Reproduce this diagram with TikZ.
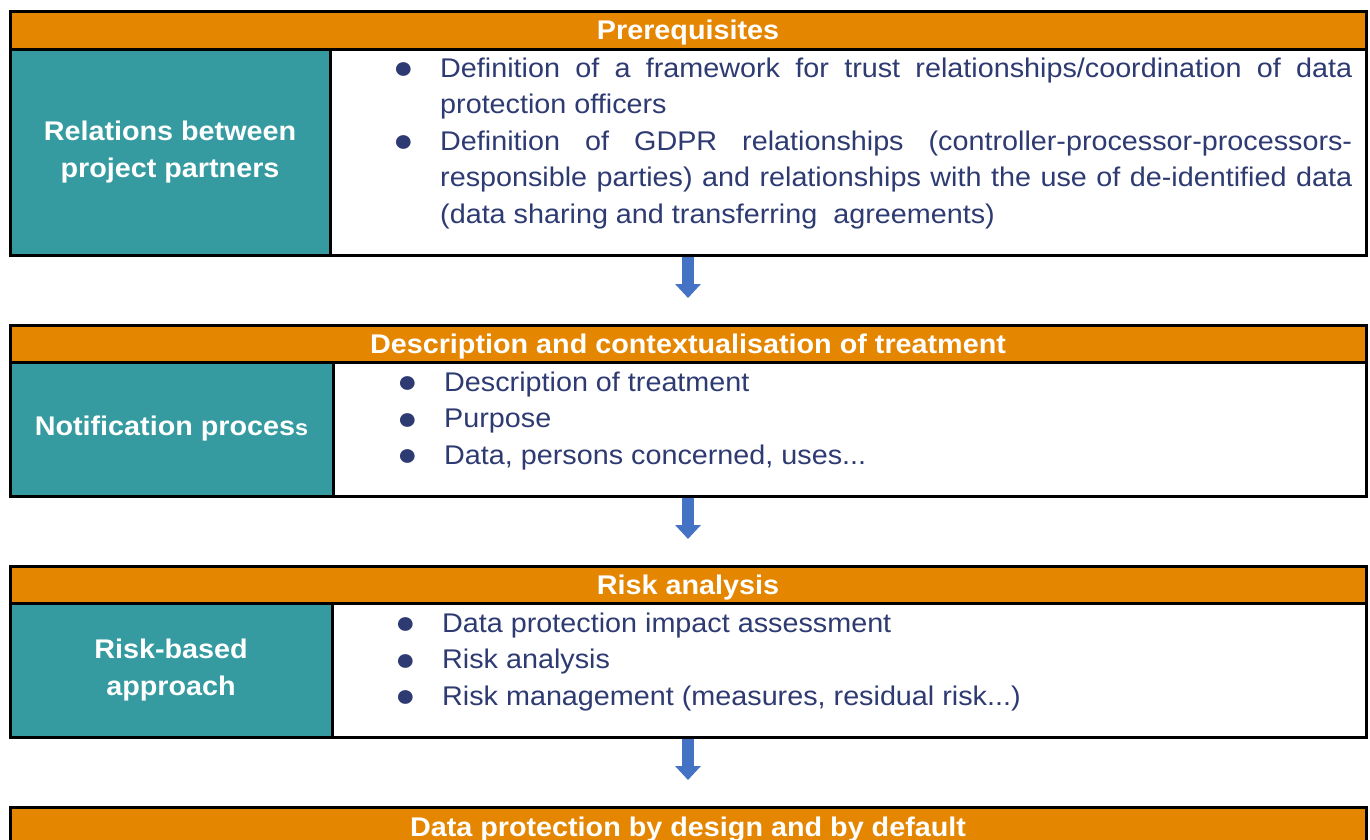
\documentclass[tikz,border=0pt]{standalone}
\usepackage{fontspec}
\setmainfont{Liberation Sans}[FakeStretch=1.065]
\usetikzlibrary{arrows.meta}

\definecolor{hdorange}{HTML}{E58600}
\definecolor{cellteal}{HTML}{359BA0}
\definecolor{listblue}{HTML}{2E3A72}
\definecolor{arrowblue}{HTML}{4472C4}

\hyphenpenalty=10000
\exhyphenpenalty=10000

% one bullet point with hanging indent
\newcommand{\bpoint}[1]{\hangindent=47pt\hangafter=1\noindent\makebox[47pt][l]{\strut\raisebox{-1.5pt}{\fontsize{32}{32}\selectfont●}}#1\par}

\begin{document}
\begin{tikzpicture}[x=1pt,y=-1pt,
    head/.style={draw, line width=3pt, fill=hdorange, text=white, font=\bfseries\fontsize{27}{33}\selectfont,
      minimum width=1356pt, minimum height=38pt, text height=19.5pt, text depth=1.5pt,
      inner sep=0pt, outer sep=0pt, anchor=north west},
    side/.style={draw, line width=3pt, fill=cellteal, text=white, font=\bfseries\fontsize{27}{37}\selectfont,
      align=center, inner sep=0pt, outer sep=0pt, anchor=north west},
    cell/.style={draw, line width=3pt, fill=white, inner sep=0pt, outer sep=0pt, anchor=north west},
    items/.style={text=listblue, font=\fontsize{27}{36.5}\selectfont,
      align=justify, inner sep=0pt, anchor=north west},
    flow/.style={line width=12pt, arrowblue, -{Triangle[width=25pt,length=14pt]}, shorten <=1.5pt, shorten >=27pt}]
  \useasboundingbox (0,0) rectangle (1370,839);
  \clip (0,0) rectangle (1370,839);

  % prerequisites
  \node[head] (h1) at (10,11) {Prerequisites};
  \node[side, minimum width=320pt, minimum height=206pt] (t1) at (10,49) {Relations between\\project partners};
  \node[cell, minimum width=1036pt, minimum height=206pt] (c1) at (330,49) {};
  \node[items, text width=959pt] (l1) at (393,51.5) {%
    \bpoint{Definition of a framework for trust relationships/coordination of data\linebreak protection officers}
    \bpoint{Definition of GDPR relationships (controller-processor-processors-\linebreak responsible parties) and relationships with the use of de-identified data (data sharing and transferring\ \ agreements)}};

  % treatment
  \node[head] (h2) at (10,325) {Description and contextualisation of treatment};
  \node[side, minimum width=323pt, minimum height=134pt] (t2) at (10,362) {Notification proces{\fontsize{22}{22}\selectfont s}};
  \node[cell, minimum width=1033pt, minimum height=134pt] (c2) at (333,362) {};
  \node[items, text width=955pt] (l2) at (397,365.5) {%
    \bpoint{Description of treatment}
    \bpoint{Purpose}
    \bpoint{Data, persons concerned, uses...}};

  % risk
  \node[head] (h3) at (10,566) {Risk analysis};
  \node[side, minimum width=322pt, minimum height=134pt] (t3) at (10,603) {Risk-based\\approach};
  \node[cell, minimum width=1034pt, minimum height=134pt] (c3) at (332,603) {};
  \node[items, text width=957pt] (l3) at (395,606.5) {%
    \bpoint{Data protection impact assessment}
    \bpoint{Risk analysis}
    \bpoint{Risk management (measures, residual risk...)}};

  \node[head, minimum height=40pt] (h4) at (10,807) {Data protection by design and by default};

  \foreach \a/\b in {1/2,2/3,3/4}
    \draw[flow] (h\a.center |- t\a.south) -- (h\b.north);
\end{tikzpicture}
\end{document}
